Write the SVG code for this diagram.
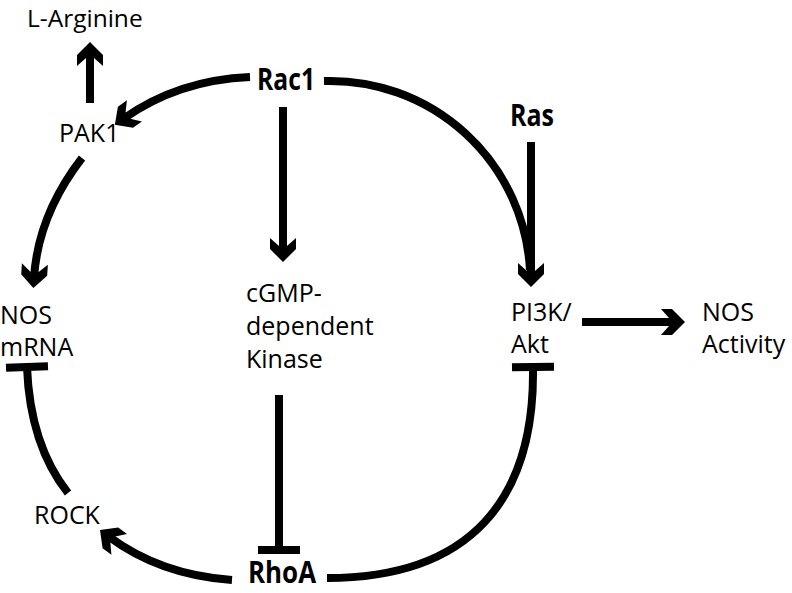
<svg xmlns="http://www.w3.org/2000/svg" width="792" height="593" viewBox="0 0 792 593">
<style>
.t{font-family:"Open Sans","Liberation Sans",sans-serif;font-size:25px;fill:#000}
.b{font-family:"Open Sans","Liberation Sans",sans-serif;font-size:31px;font-weight:bold;fill:#000}
.c{fill:none;stroke:#000;stroke-width:8}
.a{marker-end:url(#arr)}
</style>
<defs>
<marker id="arr" viewBox="-16 -15 28 30" markerWidth="28" markerHeight="30" refX="0" refY="0" orient="auto" markerUnits="userSpaceOnUse" overflow="visible">
<polygon points="10,0 -3,13 -14,13 -6,4 -6,-4 -14,-13 -3,-13" fill="#000"/>
</marker>
<marker id="bar" viewBox="-4 -21 8 42" markerWidth="8" markerHeight="42" refX="0" refY="0" orient="auto" markerUnits="userSpaceOnUse" overflow="visible">
<rect x="-4" y="-21" width="8" height="42" fill="#000"/>
</marker>
</defs>
<rect width="792" height="593" fill="#fff"/>
<g id="connectors">
<path class="c a" d="M90,103 L90,52"/>
<path class="c a" d="M250,77 Q178,80 123,119"/>
<path class="c" d="M324,81 A200,200 0 0 1 530,270"/>
<path class="c a" d="M283,107 L283,252"/>
<path class="c a" d="M531,142 L531,277"/>
<path class="c a" d="M582,322 L675,322"/>
<path class="c a" d="M82,158 Q38,215 34,278"/>
<path class="c" d="M27,367 Q30,445 68,493" marker-start="url(#bar)"/>
<path class="c" d="M279,395 L279,550" marker-end="url(#bar)"/>
<path class="c a" d="M232,580 Q160,575 108,536"/>
<path class="c" d="M327,578 C470,578 535,500 533,367" marker-end="url(#bar)"/>
</g>
<g id="node-larginine"><text class="t" x="27" y="27" style="font-size:24.5px">L-Arginine</text></g>
<g id="node-rac1"><text class="b" x="257" y="90" textLength="58" lengthAdjust="spacingAndGlyphs">Rac1</text></g>
<g id="node-pak1"><text class="t" x="59" y="142">PAK1</text></g>
<g id="node-ras"><text class="b" x="510" y="126" textLength="44" lengthAdjust="spacingAndGlyphs">Ras</text></g>
<g id="node-nosmrna"><text class="t" x="0" y="324">NOS</text><text class="t" x="0" y="356">mRNA</text></g>
<g id="node-cgmp"><text class="t" x="246" y="302">cGMP-</text><text class="t" x="246" y="335">dependent</text><text class="t" x="246" y="368">Kinase</text></g>
<g id="node-pi3k"><text class="t" x="511" y="321">PI3K/</text><text class="t" x="511" y="353">Akt</text></g>
<g id="node-nosactivity"><text class="t" x="702" y="321">NOS</text><text class="t" x="702" y="353">Activity</text></g>
<g id="node-rock"><text class="t" x="34" y="524">ROCK</text></g>
<g id="node-rhoa"><text class="b" x="248" y="583" style="font-size:30px" textLength="68" lengthAdjust="spacingAndGlyphs">RhoA</text></g>
</svg>
